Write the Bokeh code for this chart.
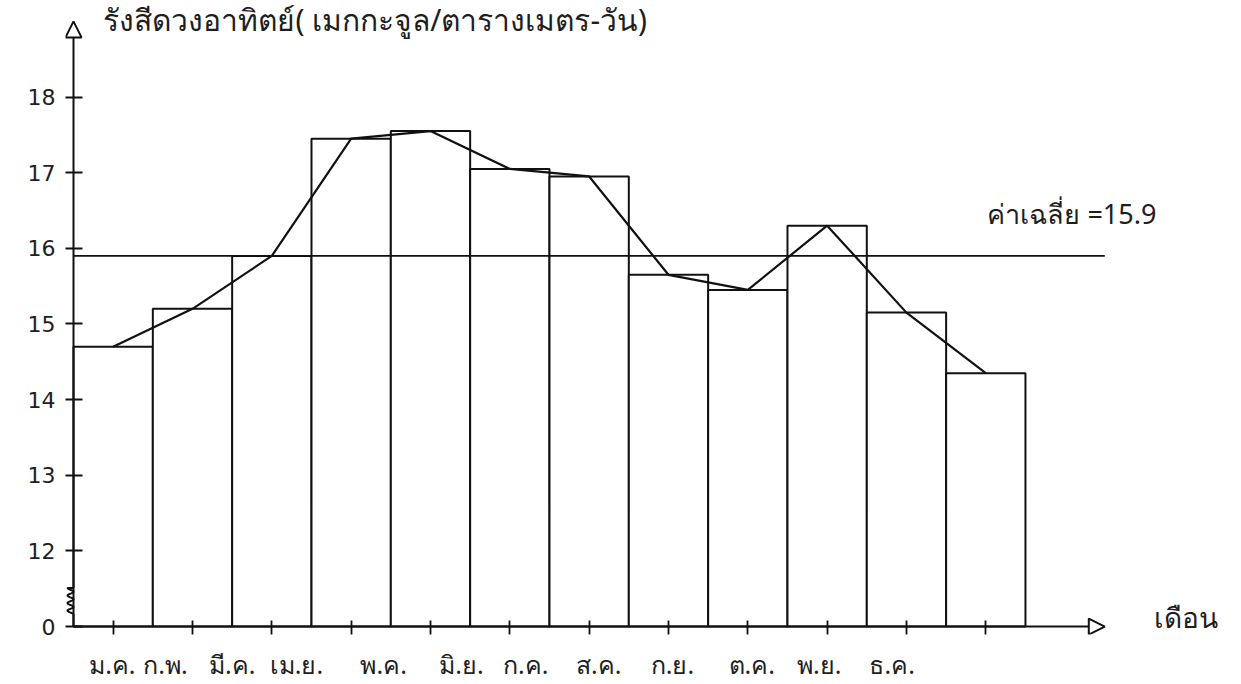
import numpy as np
from bokeh.plotting import figure
from bokeh.models import Range1d, FixedTicker, Arrow, NormalHead, Label, LinearAxis
from bokeh.embed import file_html
from bokeh.resources import INLINE

# ---------------- data ----------------
months = ["ม.ค.", "ก.พ.", "มี.ค.", "เม.ย.", "พ.ค.", "มิ.ย.",
          "ก.ค.", "ส.ค.", "ก.ย.", "ต.ค.", "พ.ย.", "ธ.ค."]
radiation = [14.7, 15.2, 15.9, 17.45, 17.55, 17.05,
             16.95, 15.65, 15.45, 16.3, 15.15, 14.35]
mean_value = 15.9
axis_base = 11          # broken axis: this position is labelled "0"
y_ticks = [11, 12, 13, 14, 15, 16, 17, 18]
y_tick_labels = ["0", "12", "13", "14", "15", "16", "17", "18"]
title_text = "รังสีดวงอาทิตย์( เมกกะจูล/ตารางเมตร-วัน)"
x_title = "เดือน"
mean_text = "ค่าเฉลี่ย =15.9"

# typewritten month labels sit at their own pitch (layout, in x units)
month_label_x = [0.49, 1.16, 2.00, 2.81, 3.91, 4.89, 5.70, 6.62, 7.55, 8.55, 9.40, 10.32]

# ---------------- layout ----------------
PX_X = 79.33
PX_Y = 76.0
AX_X, AX_18 = 73, 97           # page px of x=0 and y=18
F_LEFT, F_RIGHT, F_TOP, F_BOTTOM = 65, 1238, 0, 637
x_start = (F_LEFT - AX_X) / PX_X
x_end = (F_RIGHT - AX_X) / PX_X
y_end = 18 + (AX_18 - F_TOP) / PX_Y
y_start = 18 - (F_BOTTOM - AX_18) / PX_Y

B_LEFT = F_LEFT
B_BOTTOM = 46
W = F_RIGHT
H = F_BOTTOM + B_BOTTOM

INK = "#111111"
TXT = "#1e1e1e"
FONT = "Noto Sans"

p = figure(width=W, height=H, output_backend="svg", toolbar_location=None,
           x_range=Range1d(x_start, x_end), y_range=Range1d(y_start, y_end),
           min_border_left=B_LEFT, min_border_right=0, min_border_top=0,
           min_border_bottom=B_BOTTOM)
p.outline_line_color = None
p.grid.visible = False
p.background_fill_color = "white"
p.border_fill_color = "white"

centers = np.arange(len(months)) + 0.5

# bars
p.vbar(x=centers, width=1.0, bottom=axis_base, top=radiation,
       fill_color="white", line_color=INK, line_width=2)
# mean line
p.line(x=[0, 13.0], y=[mean_value, mean_value], line_color=INK, line_width=1.8)
# frequency polygon
p.line(x=centers, y=radiation, line_color=INK, line_width=2.2)

# axes arrows
head_kw = dict(size=16, fill_color="white", line_color=INK, line_width=2)
p.add_layout(Arrow(end=NormalHead(**head_kw), x_start=0, y_start=axis_base,
                   x_end=13.0, y_end=axis_base, line_color=INK, line_width=2))
p.add_layout(Arrow(end=NormalHead(**head_kw), x_start=0, y_start=axis_base + 0.51,
                   x_end=0, y_end=19.0, line_color=INK, line_width=2))
# axis break squiggle
t = np.linspace(0, 1, 80)
sq_y = axis_base + 0.16 + t * 0.35
sq_x = -(6.0 / PX_X) * (1 - np.cos(2 * np.pi * 3.5 * t)) / 2
p.line(x=np.r_[0, 0, sq_x, 0], y=np.r_[axis_base, axis_base + 0.16, sq_y, axis_base + 0.51],
       line_color=INK, line_width=2)

# x axis: tick marks at month centres (labels hidden)
xa = p.xaxis[0]
xa.ticker = FixedTicker(ticks=list(centers))
xa.axis_line_color = None
xa.major_tick_in = 14
xa.major_tick_out = 0
xa.major_tick_line_color = INK
xa.major_tick_line_width = 1.8
xa.minor_tick_line_color = None
xa.major_label_standoff = 0
xa.major_label_text_font_size = "1px"
xa.major_label_text_color = None

# x axis: typewritten month labels
xl = LinearAxis(ticker=FixedTicker(ticks=month_label_x),
                major_label_overrides={float(v): m for v, m in zip(month_label_x, months)})
xl.axis_line_color = None
xl.major_tick_line_color = None
xl.minor_tick_line_color = None
xl.major_tick_in = 0
xl.major_tick_out = 0
xl.major_label_standoff = 12
xl.major_label_text_font = FONT
xl.major_label_text_font_size = "25px"
xl.major_label_text_color = TXT
p.add_layout(xl, "below")

ya = p.yaxis[0]
ya.ticker = FixedTicker(ticks=y_ticks)
ya.major_label_overrides = {float(v): s for v, s in zip(y_ticks, y_tick_labels)}
ya.axis_line_color = None
ya.major_tick_in = 17
ya.major_tick_out = 0
ya.major_tick_line_color = INK
ya.major_tick_line_width = 1.8
ya.minor_tick_line_color = None
ya.major_label_standoff = 10
ya.major_label_text_font = "DejaVu Sans"
ya.major_label_text_font_size = "22px"
ya.major_label_text_color = TXT

# texts
p.add_layout(Label(x=0.378, y=19.02, text=title_text, text_baseline="middle",
                   text_font=FONT, text_font_size="30px", text_color=TXT))
p.add_layout(Label(x=11.52, y=16.46, text=mean_text, text_baseline="middle",
                   text_font=FONT, text_font_size="27px", text_color=TXT))
p.add_layout(Label(x=13.62, y=11.12, text=x_title, text_baseline="middle",
                   text_font=FONT, text_font_size="28px", text_color=TXT))

open("out.html", "w").write(file_html(p, INLINE))
